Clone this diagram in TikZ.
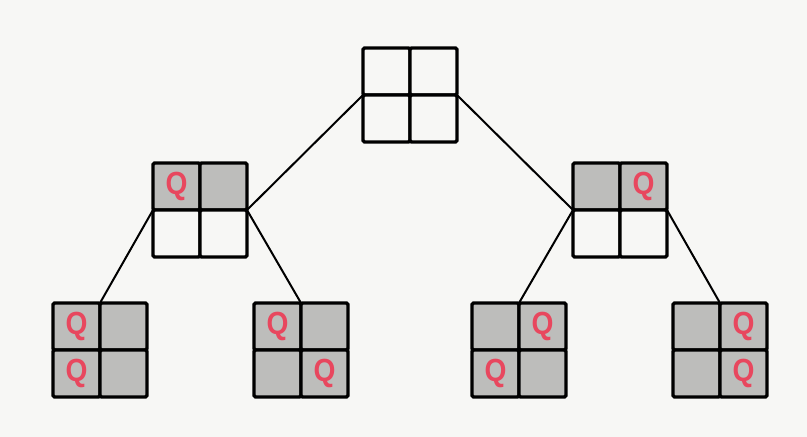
\documentclass[tikz,border=0pt]{standalone}
\usepackage{fontspec}
\setmainfont{Liberation Sans}
\definecolor{bg}{HTML}{F7F7F5}
\definecolor{cellgray}{HTML}{BDBDBB}
\definecolor{qred}{HTML}{E8475E}
\tikzset{
  cell/.style={draw=black, line width=3.4pt, rounded corners=1.5pt, minimum size=47pt,
    inner sep=0pt, outer sep=0pt, font=\fontsize{32}{32}\selectfont\bfseries, text=qred},
  link/.style={line width=2pt, black}
}
\newcommand\cellE[3]{\node[cell,fill=bg] (#1) at (#2,#3) {};}
\newcommand\cellG[3]{\node[cell,fill=cellgray] (#1) at (#2,#3) {};}
\newcommand\cellQ[3]{\node[cell,fill=cellgray] (#1) at (#2,#3) {\scalebox{0.88}[1]{Q}};}
\newcommand\board[7]{%
  \csname cell#4\endcsname{#1-11}{#2-23.5}{#3-23.5}%
  \csname cell#5\endcsname{#1-12}{#2+23.5}{#3-23.5}%
  \csname cell#6\endcsname{#1-21}{#2-23.5}{#3+23.5}%
  \csname cell#7\endcsname{#1-22}{#2+23.5}{#3+23.5}%
}
\begin{document}
\begin{tikzpicture}[x=1pt,y=-1pt]
\fill[bg] (0,0) rectangle (807,437);
\useasboundingbox (0,0) rectangle (807,437);
\board{top}{410}{95}{E}{E}{E}{E}
\board{ml}{200}{210}{Q}{G}{E}{E}
\board{mr}{620}{210}{G}{Q}{E}{E}
\board{ba}{100}{350}{Q}{G}{Q}{G}
\board{bb}{301}{350}{Q}{G}{G}{Q}
\board{bc}{519}{350}{G}{Q}{Q}{G}
\board{bd}{720}{350}{G}{Q}{G}{Q}
\draw[link] (top-21.north west) -- (ml-12.south east);
\draw[link] (top-22.north east) -- (mr-11.south west);
\draw[link] (ml-11.south west) -- (ba-11.north east);
\draw[link] (ml-12.south east) -- (bb-11.north east);
\draw[link] (mr-11.south west) -- (bc-11.north east);
\draw[link] (mr-12.south east) -- (bd-11.north east);
\end{tikzpicture}
\end{document}
